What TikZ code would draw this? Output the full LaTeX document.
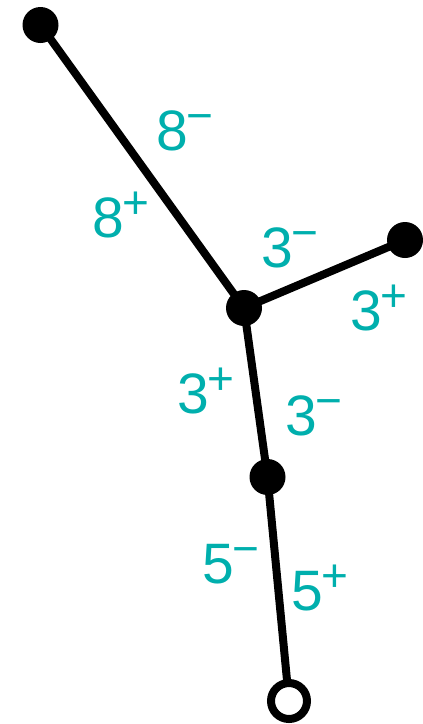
\documentclass[tikz,border=0pt]{standalone}
\usepackage{fontspec}
\setmainfont{Liberation Sans}
\definecolor{teal}{RGB}{0,175,173}
\newcommand\lab[2]{#1\rlap{\kern-1pt\raisebox{19pt}{\fontsize{46}{46}\selectfont #2}}}
\begin{document}
\begin{tikzpicture}[x=1pt,y=-1pt,
  dot/.style={circle,fill=black,minimum size=36pt,inner sep=0pt},
  odot/.style={circle,draw=black,fill=white,line width=8pt,minimum size=36pt,inner sep=0pt},
  edge/.style={line width=8pt,black},
  lbl/.style={text=teal,font=\fontsize{57}{57}\selectfont,inner sep=0pt,anchor=base}]
\useasboundingbox (0,0) rectangle (423,724);
\coordinate (a) at (40.5,25);
\coordinate (c) at (244,308);
\coordinate (r) at (405,240);
\coordinate (m) at (267.5,477);
\coordinate (b) at (289,701);
\draw[edge] (a) -- (c) -- (r);
\draw[edge] (c) -- (m) -- (b);
\node[dot] (na) at (a) {};
\node[dot] (nc) at (c) {};
\node[dot] (nr) at (r) {};
\node[dot] (nm) at (m) {};
\node[odot] (nb) at (b) {};
\node[lbl] (l1) at (172,150) {\lab{8}{−}};
\node[lbl] (l2) at (108,237) {\lab{8}{+}};
\node[lbl] (l3) at (277,267) {\lab{3}{−}};
\node[lbl] (l4) at (366,330) {\lab{3}{+}};
\node[lbl] (l5) at (193,413) {\lab{3}{+}};
\node[lbl] (l6) at (301,435) {\lab{3}{−}};
\node[lbl] (l7) at (218,583) {\lab{5}{−}};
\node[lbl] (l8) at (307,610) {\lab{5}{+}};
\end{tikzpicture}
\end{document}
